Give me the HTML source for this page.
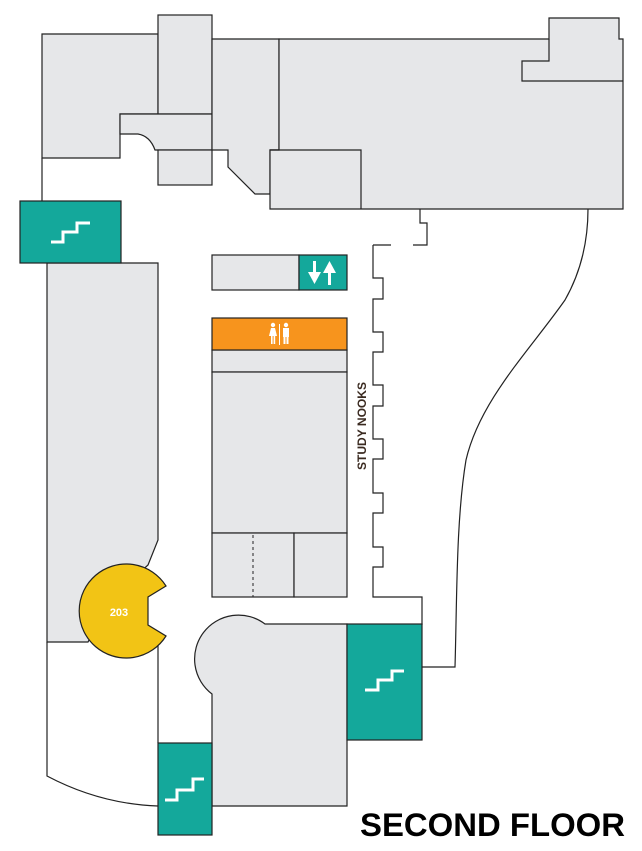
<!DOCTYPE html>
<html><head><meta charset="utf-8"><style>
html,body{margin:0;padding:0;background:#fff;}
svg{display:block}
</style></head><body>
<svg width="642" height="851" viewBox="0 0 642 851" xmlns="http://www.w3.org/2000/svg">
<g fill="#e6e7e9" stroke="#222" stroke-width="1.2">
<polygon points="42,34 158,34 158,114 120,114 120,158 42,158"/>
<rect x="158" y="15" width="54" height="99"/>
<path d="M120,114 H212 V150 H155 Q150,136 138,134 H120 Z"/>
<rect x="158" y="150" width="54" height="35"/>
<polygon points="212,39 279,39 279,150 270,150 270,194 255,194 228,167 228,150 212,150"/>
<polygon points="279,39 549,39 549,18 619,18 619,39 623,39 623,209 270,209 270,150 279,150"/>
<polyline fill="none" points="549,39 549,61 522,61 522,81 623,81"/>
<polyline fill="none" points="270,150 361,150 361,209"/>
<polygon points="47,263 158,263 158,540 148,565 110,600 88,642 47,642"/>
<rect x="212" y="255" width="87" height="35"/>
<rect x="212" y="350" width="135" height="22"/>
<rect x="212" y="372" width="135" height="161"/>
<rect x="212" y="533" width="82" height="64"/>
<rect x="294" y="533" width="53" height="64"/>
<path d="M265,624 H347 V806 H212 V694 A35,35 0 1 1 265,624 Z"/>
</g>
<line x1="253" y1="535" x2="253" y2="597" stroke="#222" stroke-width="1" stroke-dasharray="3,3"/>
<g fill="none" stroke="#222" stroke-width="1.2">
<line x1="42" y1="158" x2="42" y2="201"/>
<path d="M47,642 V776 Q100,804 158,806"/>
<line x1="158" y1="640" x2="158" y2="743"/>
<polyline points="373,245 391,245"/>
<polyline points="413,245 427,245 427,223 420,223 420,209"/>
<polyline points="373,245 373,278 383,278 383,299 373,299 373,332 383,332 383,352 373,352 373,385 383,385 383,406 373,406 373,439 383,439 383,459 373,459 373,493 383,493 383,513 373,513 373,547 383,547 383,567 373,567 373,597 422,597 422,625"/>
<path d="M422,667 H455 C457,600 456,520 466,460 C480,400 530,350 565,300 C582,270 588,240 588,209"/>
</g>
<g stroke="#222" stroke-width="1.2" fill="#14a89b">
<rect x="20" y="201" width="101" height="62"/>
<rect x="347" y="624" width="75" height="116"/>
<rect x="158" y="743" width="54" height="92"/>
<rect x="299" y="255" width="48" height="35"/>
</g>
<g fill="none" stroke="#fff" stroke-width="3">
<polyline points="51,242 63,242 63,232 77,232 77,223 90,223"/>
<polyline points="365,690 378,690 378,680 392,680 392,671 404,671"/>
<polyline points="165,800 177,800 177,790 193,790 193,779 204,779"/>
</g>
<g fill="#fff">
<rect x="313" y="261" width="3" height="14"/><polygon points="308,272 321,272 314.5,284"/>
<rect x="328" y="271" width="3" height="14"/><polygon points="323,273 336,273 329.5,261"/>
</g>
<rect x="212" y="318" width="135" height="32" fill="#f7941d" stroke="#222" stroke-width="1.2"/>
<g fill="#fff">
<circle cx="273" cy="325" r="2.2"/><polygon points="269,336 277,336 275,328 271,328"/><rect x="271" y="336" width="1.6" height="8"/><rect x="273.6" y="336" width="1.6" height="8"/>
<rect x="279" y="324" width="1" height="21"/>
<circle cx="286" cy="325" r="2.2"/><rect x="283" y="328" width="6" height="9"/><rect x="283.5" y="336" width="2" height="8"/><rect x="286.5" y="336" width="2" height="8"/>
</g>
<path d="M166,586 L148,597 L148,625 L166,636 A47,47 0 1 1 166,586 Z" fill="#f2c415" stroke="#222" stroke-width="1.2"/>
<text x="119" y="616" font-family="Liberation Sans, sans-serif" font-size="11" font-weight="bold" fill="#fff" text-anchor="middle">203</text>
<text transform="translate(366,470) rotate(-90)" font-family="Liberation Sans, sans-serif" font-size="11.5" font-weight="bold" fill="#3a2a20" textLength="88" lengthAdjust="spacingAndGlyphs">STUDY NOOKS</text>
<text x="625" y="836" font-family="Liberation Sans, sans-serif" font-size="32" font-weight="900" fill="#000" text-anchor="end" textLength="265" lengthAdjust="spacingAndGlyphs">SECOND FLOOR</text>
</svg>
</body></html>
